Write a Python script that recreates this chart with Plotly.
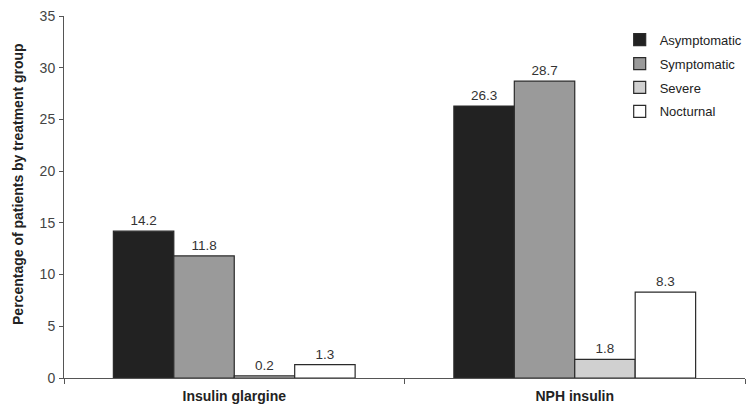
import plotly.graph_objects as go

categories = ["Insulin glargine", "NPH insulin"]
series_names = ["Asymptomatic", "Symptomatic", "Severe", "Nocturnal"]
asymptomatic = [14.2, 26.3]
symptomatic = [11.8, 28.7]
severe = [0.2, 1.8]
nocturnal = [1.3, 8.3]
y_ticks = [0, 5, 10, 15, 20, 25, 30, 35]
y_title = "Percentage of patients by treatment group"

values = [asymptomatic, symptomatic, severe, nocturnal]
colors = ["#222222", "#9a9a9a", "#d0d0d0", "#ffffff"]
FONT = "Liberation Sans, Arial, Helvetica, sans-serif"

fig = go.Figure()
for name, vals, col in zip(series_names, values, colors):
    fig.add_trace(go.Bar(
        name=name, x=categories, y=vals,
        marker=dict(color=col, line=dict(color="#2a2a2a", width=1.2)),
        text=[f"{v:.1f}" for v in vals], textposition="outside",
        textfont=dict(family=FONT, size=13.5, color="#333333"),
        cliponaxis=False, legendgroup=name,
    ))

fig.update_layout(
    width=746, height=412,
    margin=dict(l=64, r=1, t=16, b=34, autoexpand=False),
    paper_bgcolor="white", plot_bgcolor="white",
    barmode="group", bargap=0.29, bargroupgap=0,
    font=dict(family=FONT, color="#333333"),
    showlegend=True,
    legend=dict(x=0.816, y=0.976, xanchor="left", yanchor="top",
                font=dict(family=FONT, size=13, color="#222222"),
                traceorder="grouped", tracegroupgap=4,
                itemwidth=30, bgcolor="rgba(0,0,0,0)"),
    annotations=[dict(
        text=f"<b>{y_title}</b>", textangle=-90,
        xref="paper", yref="paper", x=0, y=0.536, xshift=-46,
        xanchor="center", yanchor="middle", showarrow=False,
        font=dict(family=FONT, size=14, color="#222222"),
    )],
)
fig.update_yaxes(
    range=[0, 35], tickvals=y_ticks, ticks="outside", ticklen=4,
    tickcolor="#555555", showline=True, linecolor="#555555", linewidth=1,
    showgrid=False, zeroline=False, ticklabelstandoff=1,
    tickfont=dict(family=FONT, size=14, color="#444444"),
)
fig.update_xaxes(
    showline=True, linecolor="#555555", linewidth=1,
    ticks="outside", tickson="boundaries", ticklen=5, tickcolor="#555555",
    showgrid=False, ticklabelstandoff=5,
    tickfont=dict(family=FONT, size=14, color="#222222"),
    ticktext=[f"<b>{c}</b>" for c in categories], tickvals=categories,
)

fig.write_html("out.html")
